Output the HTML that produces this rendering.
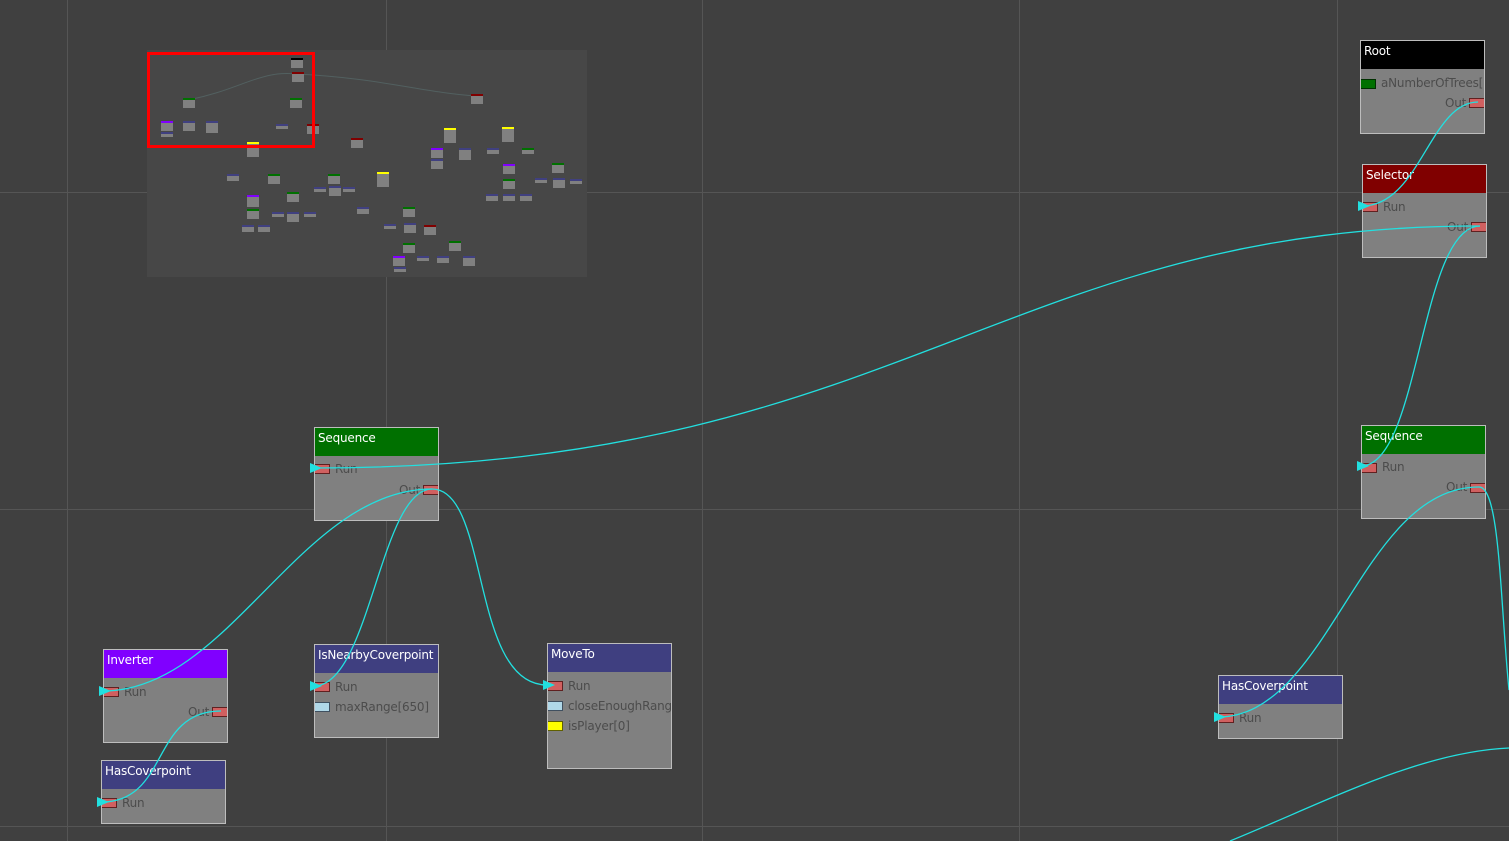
<!DOCTYPE html>
<html><head><meta charset="utf-8"><style>
body{margin:0;width:1509px;height:841px;background:#404040;overflow:hidden;position:relative;font-family:"DejaVu Sans","Liberation Sans",sans-serif}
.g{position:absolute;background:#555}
.n{position:absolute;width:123px;background:#808080;border:1px solid #bdbdbd;overflow:hidden}
.h{height:28px;color:#fff;font-size:12px;line-height:20px;padding-left:3px;white-space:nowrap;overflow:hidden;letter-spacing:-0.2px}
.r{position:absolute;font-size:12px;color:#4c4c4c;white-space:nowrap;letter-spacing:-0.2px}
.p{position:absolute;width:14px;height:8px;background:#d06060;border:1px solid #602020}
.m{position:absolute;width:12px;height:8px;background:#808080;border-top:2px solid #404080}
</style></head><body>
<div class="g" style="left:67px;top:0;width:1px;height:841px"></div>
<div class="g" style="left:386px;top:0;width:1px;height:841px"></div>
<div class="g" style="left:702px;top:0;width:1px;height:841px"></div>
<div class="g" style="left:1019px;top:0;width:1px;height:841px"></div>
<div class="g" style="left:1337px;top:0;width:1px;height:841px"></div>
<div class="g" style="left:0;top:192px;width:1509px;height:1px"></div>
<div class="g" style="left:0;top:509px;width:1509px;height:1px"></div>
<div class="g" style="left:0;top:826px;width:1509px;height:1px"></div>

<div style="position:absolute;left:147px;top:50px;width:440px;height:227px;background:#474747"></div>
<svg style="position:absolute;left:0;top:0" width="1509" height="841">
<path d="M188,100 C240,90 260,70 296,74 C380,78 420,92 476,96" stroke="#526060" fill="none"/>
</svg>
<div class="m" style="left:291px;top:58px;border-top-color:#000"></div>
<div class="m" style="left:292px;top:72px;border-top-color:#800000"></div>
<div class="m" style="left:183px;top:98px;border-top-color:#007000"></div>
<div class="m" style="left:290px;top:98px;border-top-color:#007000"></div>
<div class="m" style="left:161px;top:121px;border-top-color:#8000ff"></div>
<div class="m" style="left:161px;top:132px;height:3px"></div>
<div class="m" style="left:183px;top:121px"></div>
<div class="m" style="left:206px;top:121px;height:10px"></div>
<div class="m" style="left:276px;top:124px;height:3px"></div>
<div class="m" style="left:307px;top:124px;border-top-color:#800000"></div>
<div class="m" style="left:247px;top:142px;height:13px;border-top-color:#ff0"></div>
<div class="m" style="left:351px;top:138px;border-top-color:#800000"></div>
<div class="m" style="left:471px;top:94px;border-top-color:#800000"></div>
<div class="m" style="left:444px;top:128px;height:13px;border-top-color:#ff0"></div>
<div class="m" style="left:502px;top:127px;height:13px;border-top-color:#ff0"></div>
<div class="m" style="left:431px;top:148px;border-top-color:#8000ff"></div>
<div class="m" style="left:431px;top:159px"></div>
<div class="m" style="left:459px;top:148px;height:10px"></div>
<div class="m" style="left:487px;top:148px;height:4px"></div>
<div class="m" style="left:522px;top:148px;height:4px;border-top-color:#007000"></div>
<div class="m" style="left:552px;top:163px;border-top-color:#007000"></div>
<div class="m" style="left:503px;top:164px;border-top-color:#8000ff"></div>
<div class="m" style="left:503px;top:179px;border-top-color:#007000"></div>
<div class="m" style="left:535px;top:178px;height:3px"></div>
<div class="m" style="left:553px;top:178px"></div>
<div class="m" style="left:570px;top:179px;height:3px"></div>
<div class="m" style="left:486px;top:194px;height:5px"></div>
<div class="m" style="left:503px;top:194px;height:5px"></div>
<div class="m" style="left:520px;top:194px;height:5px"></div>
<div class="m" style="left:227px;top:174px;height:5px"></div>
<div class="m" style="left:268px;top:174px;border-top-color:#007000"></div>
<div class="m" style="left:247px;top:195px;height:10px;border-top-color:#8000ff"></div>
<div class="m" style="left:247px;top:209px;border-top-color:#007000"></div>
<div class="m" style="left:287px;top:192px;border-top-color:#007000"></div>
<div class="m" style="left:272px;top:212px;height:3px"></div>
<div class="m" style="left:287px;top:212px"></div>
<div class="m" style="left:304px;top:212px;height:3px"></div>
<div class="m" style="left:242px;top:225px;height:5px"></div>
<div class="m" style="left:258px;top:225px;height:5px"></div>
<div class="m" style="left:328px;top:174px;border-top-color:#007000"></div>
<div class="m" style="left:314px;top:187px;height:3px"></div>
<div class="m" style="left:329px;top:186px"></div>
<div class="m" style="left:343px;top:187px;height:3px"></div>
<div class="m" style="left:377px;top:172px;height:13px;border-top-color:#ff0"></div>
<div class="m" style="left:357px;top:207px;height:5px"></div>
<div class="m" style="left:403px;top:207px;border-top-color:#007000"></div>
<div class="m" style="left:384px;top:224px;height:3px"></div>
<div class="m" style="left:404px;top:223px"></div>
<div class="m" style="left:424px;top:225px;border-top-color:#800000"></div>
<div class="m" style="left:403px;top:243px;border-top-color:#007000"></div>
<div class="m" style="left:449px;top:241px;border-top-color:#007000"></div>
<div class="m" style="left:393px;top:256px;border-top-color:#8000ff"></div>
<div class="m" style="left:394px;top:267px;height:3px"></div>
<div class="m" style="left:417px;top:256px;height:3px"></div>
<div class="m" style="left:437px;top:256px;height:5px"></div>
<div class="m" style="left:463px;top:256px;height:8px"></div>
<div style="position:absolute;left:147px;top:52px;width:162px;height:90px;border:3px solid #f00"></div>

<!-- nodes -->
<div class="n" style="left:1360px;top:40px;height:92px"><div class="h" style="background:#000">Root</div>
<div class="p" style="left:-1px;top:38px;background:#007000;border-color:#003000"></div><div class="r" style="left:20px;top:35px">aNumberOfTrees[5</div>
<div class="r" style="left:84px;top:55px">Out</div><div class="p" style="left:108px;top:57px"></div></div>

<div class="n" style="left:1362px;top:164px;height:92px"><div class="h" style="background:#800000">Selector</div>
<div class="p" style="left:-1px;top:37px"></div><div class="r" style="left:20px;top:35px">Run</div>
<div class="r" style="left:84px;top:55px">Out</div><div class="p" style="left:108px;top:57px"></div></div>

<div class="n" style="left:1361px;top:425px;height:92px"><div class="h" style="background:#007000">Sequence</div>
<div class="p" style="left:-1px;top:37px"></div><div class="r" style="left:20px;top:34px">Run</div>
<div class="r" style="left:84px;top:54px">Out</div><div class="p" style="left:108px;top:57px"></div></div>

<div class="n" style="left:314px;top:427px;height:92px"><div class="h" style="background:#007000">Sequence</div>
<div class="p" style="left:-1px;top:36px"></div><div class="r" style="left:20px;top:34px">Run</div>
<div class="r" style="left:84px;top:55px">Out</div><div class="p" style="left:108px;top:57px"></div></div>

<div class="n" style="left:103px;top:649px;height:92px"><div class="h" style="background:#8000ff">Inverter</div>
<div class="p" style="left:-1px;top:37px"></div><div class="r" style="left:20px;top:35px">Run</div>
<div class="r" style="left:84px;top:55px">Out</div><div class="p" style="left:108px;top:57px"></div></div>

<div class="n" style="left:101px;top:760px;height:62px"><div class="h" style="background:#3f3f80">HasCoverpoint</div>
<div class="p" style="left:-1px;top:37px"></div><div class="r" style="left:20px;top:35px">Run</div></div>

<div class="n" style="left:314px;top:644px;height:92px"><div class="h" style="background:#3f3f80">IsNearbyCoverpoint</div>
<div class="p" style="left:-1px;top:37px"></div><div class="r" style="left:20px;top:35px">Run</div>
<div class="p" style="left:-1px;top:57px;background:#b0d8e8;border-color:#405060"></div><div class="r" style="left:20px;top:55px">maxRange[650]</div></div>

<div class="n" style="left:547px;top:643px;height:124px"><div class="h" style="background:#3f3f80">MoveTo</div>
<div class="p" style="left:-1px;top:37px"></div><div class="r" style="left:20px;top:35px">Run</div>
<div class="p" style="left:-1px;top:57px;background:#b0d8e8;border-color:#405060"></div><div class="r" style="left:20px;top:55px">closeEnoughRange</div>
<div class="p" style="left:-1px;top:77px;background:#ff0;border-color:#606000"></div><div class="r" style="left:20px;top:75px">isPlayer[0]</div></div>

<div class="n" style="left:1218px;top:675px;height:62px"><div class="h" style="background:#3f3f80">HasCoverpoint</div>
<div class="p" style="left:-1px;top:37px"></div><div class="r" style="left:20px;top:35px">Run</div></div>

<svg style="position:absolute;left:0;top:0" width="1509" height="841" fill="none" stroke="#22e0e0" stroke-width="1.3">
<path d="M1478,102 C1430,102 1420,206 1362,206"/>
<path d="M1480,226 C1000,226 900,468 314,468"/>
<path d="M1480,226 C1420,226 1420,466 1361,466"/>
<path d="M432,489 C300,489 230,691 103,691"/>
<path d="M432,489 C380,489 370,686 314,686"/>
<path d="M432,489 C490,489 470,685 547,685"/>
<path d="M221,711 C150,711 170,802 101,802"/>
<path d="M1479,487 C1360,487 1330,717 1218,717"/>
<path d="M1479,487 C1500,487 1500,600 1509,690"/>
<path d="M1230,841 C1330,800 1420,752 1509,748"/>
<g fill="#22e0e0" stroke="none">
<polygon points="1358,201 1370,206 1358,211"/>
<polygon points="310,463 322,468 310,473"/>
<polygon points="1357,461 1369,466 1357,471"/>
<polygon points="99,686 111,691 99,696"/>
<polygon points="310,681 322,686 310,691"/>
<polygon points="543,680 555,685 543,690"/>
<polygon points="97,797 109,802 97,807"/>
<polygon points="1214,712 1226,717 1214,722"/>
</g>
</svg>
</body></html>
